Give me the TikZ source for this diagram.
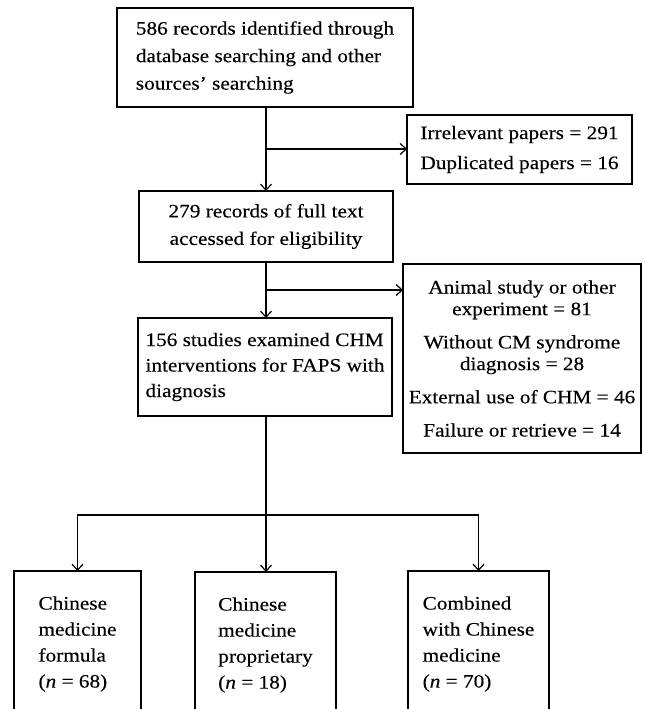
\documentclass[tikz,border=0pt]{standalone}
\usepackage{fontspec}
\setmainfont{Liberation Serif}[FakeStretch=1.12,FakeBold=0.3]
\usetikzlibrary{arrows.meta}

\begin{document}
\begin{tikzpicture}
  [x=1pt,y=-1pt,
   stage/.style={rectangle,draw=black,line width=1.2pt,inner sep=0pt,outer sep=0pt,
       font=\fontsize{19}{27.5}\selectfont},
   record/.style={stage,align=left},
   excluded/.style={stage,align=center,font=\fontsize{19}{21.7}\selectfont},
   group/.style={stage,align=left,minimum width=141pt,minimum height=146pt,
       font=\fontsize{19}{26}\selectfont},
   flow/.style={-{Straight Barb[length=6pt,width=11pt]},line width=1.2pt}]
		\clip (0,0) rectangle (645,709);
		\node (rec) [record,minimum width=296pt,minimum height=99pt] at (265,57.5)
			{586 records identified through\\database searching and other\\sources' searching};
		\node (dup) [record,minimum width=225pt,minimum height=69pt,
			font=\fontsize{19}{30}\selectfont] at (519.5,149.5)
			{Irrelevant papers = 291\\Duplicated papers = 16};
		\node (full) [stage,align=center,minimum width=254pt,minimum height=71pt] at (266,226.5)
			{279 records of full text\\accessed for eligibility};
		\node (excl) [excluded,minimum width=238pt,minimum height=189pt] at (522,358.5)
			{Animal study or other\\experiment = 81\\[11.5pt]
			 Without CM syndrome\\diagnosis = 28\\[11.5pt]
			 External use of CHM = 46\\[11.5pt]
			 Failure or retrieve = 14};
		\node (chm) [record,minimum width=254pt,minimum height=98pt,
			font=\fontsize{19}{25.5}\selectfont] at (265,367)
			{156 studies examined CHM\\interventions for FAPS with\\diagnosis};
		\node (formula) [group,minimum width=127pt] at (77.5,644)
			{Chinese\\medicine\\formula\\(\textit{n} = 68)};
		\node (propr) [group] at (265.5,645)
			{Chinese\\medicine\\proprietary\\(\textit{n} = 18)};
		\node (comb) [group] at (478.5,644)
			{Combined\\with Chinese\\medicine\\(\textit{n} = 70)};
		\coordinate (j1) at (266,149);
		\coordinate (j2) at (266,290);
		\coordinate (split) at (266,515);
		\draw [flow] (j1 |- rec.south) -- (j1 |- full.north);
		\draw [flow] (j1) -- (j1 -| dup.west);
		\draw [flow] (j2 |- full.south) -- (j2 |- chm.north);
		\draw [flow] (j2) -- (j2 -| excl.west);
		\draw [flow] (split |- chm.south) -- (split |- propr.north);
		\draw [flow] (split) -| (formula.north);
		\draw [flow] (split) -| (comb.north);
\end{tikzpicture}
\end{document}
